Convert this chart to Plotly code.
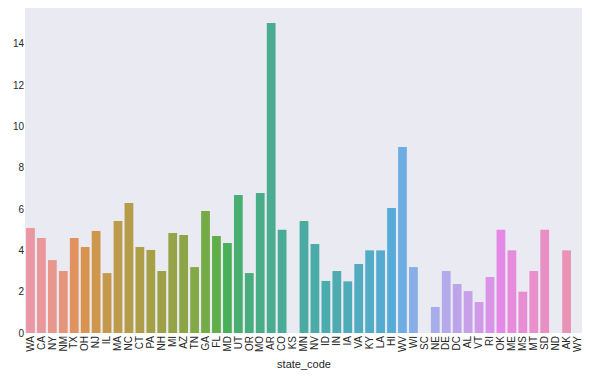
import math
import colorsys
import plotly.graph_objects as go

states = ["WA", "CA", "NY", "NM", "TX", "OH", "NJ", "IL", "MA", "NC", "CT", "PA", "NH", "MI", "AZ", "TN",
          "GA", "FL", "MD", "UT", "OR", "MO", "AR", "CO", "KS", "MN", "NV", "ID", "IN", "IA", "VA", "KY",
          "LA", "HI", "WV", "WI", "SC", "NE", "DE", "DC", "AL", "VT", "RI", "OK", "ME", "MS", "MT", "SD",
          "ND", "AK", "WY"]
values = [5.08, 4.6, 3.53, 3.0, 4.6, 4.16, 4.94, 2.9, 5.42, 6.29, 4.16, 4.02, 3.0, 4.84, 4.74, 3.19,
          5.9, 4.69, 4.36, 6.68, 2.9, 6.78, 15.0, 5.0, 0, 5.42, 4.31, 2.52, 3.0, 2.5, 3.34, 4.0,
          4.0, 6.05, 9.0, 3.19, 0, 1.26, 3.0, 2.37, 2.03, 1.5, 2.71, 5.0, 4.0, 2.0, 3.0, 5.0,
          0, 4.0, 0]
y_ticks = [0, 2, 4, 6, 8, 10, 12, 14]

# --- seaborn husl palette (l=.7, desaturated 0.75 like barplot) ---
M = [[3.2406, -1.5372, -0.4986], [-0.9689, 1.8758, 0.0415], [0.0557, -0.2040, 1.0570]]
refU, refV, lab_e, lab_k = 0.19784, 0.46834, 0.008856, 903.3


def max_chroma(L, H):
    hrad = math.radians(H)
    sinH, cosH = math.sin(hrad), math.cos(hrad)
    sub1 = (L + 16) ** 3 / 1560896.0
    sub2 = sub1 if sub1 > 0.008856 else L / 903.3
    result = float("inf")
    for m1, m2, m3 in M:
        top = (0.99915 * m1 + 1.05122 * m2 + 1.14460 * m3) * sub2
        rbottom = 0.86330 * m3 - 0.17266 * m2
        lbottom = 0.12949 * m3 - 0.38848 * m1
        bottom = (rbottom * sinH + lbottom * cosH) * sub2
        for t in (0.0, 1.0):
            C = L * (top - 1.05122 * t) / (bottom + 0.17266 * sinH * t)
            if 0.0 < C < result:
                result = C
    return result


def f_inv(t):
    return t ** 3 if t ** 3 > lab_e else (116 * t - 16) / lab_k


def from_linear(c):
    return 12.92 * c if c <= 0.0031308 else 1.055 * c ** (1 / 2.4) - 0.055


def husl_to_rgb(H, S, L):
    C = max_chroma(L, H) / 100.0 * S
    U = C * math.cos(math.radians(H))
    V = C * math.sin(math.radians(H))
    varY = f_inv((L + 16) / 116.0)
    varU = U / (13 * L) + refU
    varV = V / (13 * L) + refV
    Y = varY
    X = -(9 * Y * varU) / ((varU - 4) * varV - varU * varV)
    Z = (9 * Y - 15 * varV * Y - varV * X) / (3 * varV)
    rgb = [from_linear(r[0] * X + r[1] * Y + r[2] * Z) for r in M]
    return [min(max(c, 0), 1) for c in rgb]


n = len(states)
colors = []
for i in range(n):
    h = ((i / n) + 0.01) % 1 * 359
    r, g, b = husl_to_rgb(h, 0.9 * 99, 0.7 * 99)
    hh, ll, ss = colorsys.rgb_to_hls(r, g, b)
    r, g, b = colorsys.hls_to_rgb(hh, ll, ss * 0.75)
    colors.append(f"rgb({round(r*255)},{round(g*255)},{round(b*255)})")

fig = go.Figure(go.Bar(x=states, y=values, marker=dict(color=colors, line=dict(width=0)), width=0.8))

font = "Liberation Sans, Arial, sans-serif"
# the page body adds an 8px offset; margins compensate
fig.update_layout(
    width=590, height=377,
    margin=dict(l=17, r=15, t=0, b=52),
    paper_bgcolor="white", plot_bgcolor="#EAEAF2",
    font=dict(family=font, size=10, color="#262626"),
    showlegend=False,
)
fig.update_xaxes(tickangle=-90, showgrid=False, zeroline=False, ticks="", tickfont=dict(size=10),
                 tickmode="array", tickvals=states, ticktext=states, automargin=False,
                 range=[-0.5, n - 0.5],
                 title=dict(text="state_code", font=dict(size=11), standoff=9))
fig.update_yaxes(range=[0, 15.73], tickvals=y_ticks, showgrid=False, zeroline=False,
                 ticks="", tickfont=dict(size=10), automargin=False)
fig.write_html("out.html")
